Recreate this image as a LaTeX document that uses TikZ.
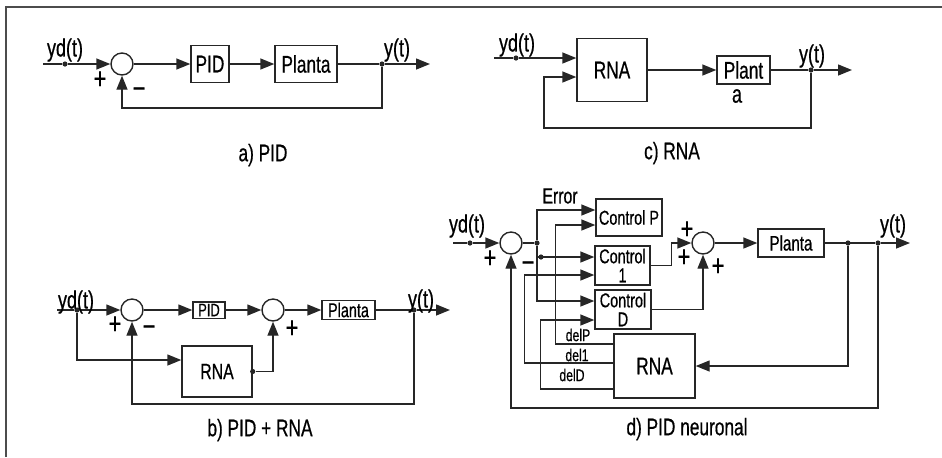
\documentclass[tikz,border=0pt]{standalone}
\usepackage{fontspec}
\setmainfont[FakeStretch=0.72,FakeBold=0.6]{Liberation Sans}
\usetikzlibrary{arrows.meta}
\tikzset{
  linea/.style={line width=0.7pt, draw=black!85},
  bloque/.style={linea, draw, inner sep=1pt, align=center},
  suma/.style={linea, draw, circle, minimum size=11pt, inner sep=0pt},
  punto/.style={circle, fill=black!85, inner sep=0pt, minimum size=2.6pt},
  flecha/.style={linea, -{Triangle[length=7pt,width=5.5pt]}},
  signo/.style={font=\fontsize{15}{15}\selectfont, inner sep=0pt},
  senal/.style={font=\fontsize{12.5}{13}\selectfont, inner sep=0pt},
  titulo/.style={font=\fontsize{12}{12}\selectfont}
}
\begin{document}
\begin{tikzpicture}[x=0.5pt,y=-0.5pt]
  \useasboundingbox (0,0) rectangle (942,457);
  \draw[line width=1pt, black!70] (5.5,457) -- (5.5,7) -- (942,7);

  % a) PID
  \coordinate (a-in) at (43,64);
  \node[punto] (a-p1) at (65,64) {};
  \node[suma] (a-s) at (122,64) {};
  \node[bloque, minimum width=19pt, minimum height=18.5pt, font=\fontsize{12}{12}\selectfont] (a-pid) at (210,64) {PID};
  \node[bloque, minimum width=31pt, minimum height=18.5pt, font=\fontsize{12}{12}\selectfont] (a-planta) at (306,64) {Planta};
  \node[punto] (a-p2) at (382,64) {};
  \coordinate (a-out) at (430,64);
  \draw[linea] (a-in) -- (a-p1);
  \draw[flecha] (a-p1) -- (a-s);
  \draw[flecha] (a-s) -- (a-pid);
  \draw[flecha] (a-pid) -- (a-planta);
  \draw[linea] (a-planta) -- (a-p2);
  \draw[flecha] (a-p2) -- (a-out);
  \draw[flecha] (a-p2) -- ++(0,44) -| (a-s);
  \node[senal] (a-yd) at (65,50) {yd(t)};
  \node[senal] (a-y) at (397,50) {y(t)};
  \node[signo] (a-mas) at (100,80) {+};
  \node[signo] (a-menos) at (139,93) {−};
  \node[titulo] (a-tit) at (263,155) {a) PID};

  % c) RNA
  \coordinate (c-in) at (494,58);
  \node[punto] (c-p1) at (516,58) {};
  \node[bloque, minimum width=35pt, minimum height=31.5pt, font=\fontsize{12}{12}\selectfont] (c-rna) at (612,70) {RNA};
  \node[bloque, minimum width=26.5pt, minimum height=14pt, font=\fontsize{12}{12}\selectfont] (c-plant) at (743.5,70) {Plant};
  \node[punto] (c-p2) at (811,70) {};
  \coordinate (c-out) at (852,70);
  \draw[linea] (c-in) -- (c-p1);
  \draw[flecha] (c-p1) -- (c-p1 -| c-rna.west);
  \draw[flecha] (c-rna) -- (c-plant);
  \draw[linea] (c-plant) -- (c-p2);
  \draw[flecha] (c-p2) -- (c-out);
  \draw[flecha] (c-p2) -- ++(0,58) -- ++(-267,0) |- ([yshift=-3.5pt]c-rna.west);
  \node[senal] (c-a) at (737,96) {a};
  \node[senal] (c-yd) at (517,45) {yd(t)};
  \node[senal] (c-y) at (812,56) {y(t)};
  \node[titulo] (c-tit) at (672,153) {c) RNA};

  % b) PID + RNA
  \coordinate (b-in) at (57,310);
  \node[punto] (b-p1) at (77,310) {};
  \node[suma] (b-s1) at (132,310) {};
  \node[bloque, minimum width=16pt, minimum height=7.5pt, font=\fontsize{9}{9}\selectfont] (b-pid) at (209,310) {PID};
  \node[suma] (b-s2) at (273,310) {};
  \node[bloque, minimum width=26.5pt, minimum height=8.5pt, font=\fontsize{10}{10}\selectfont] (b-planta) at (348.5,310) {Planta};
  \node[punto] (b-p2) at (414,310) {};
  \coordinate (b-out) at (450,310);
  \node[bloque, minimum width=35pt, minimum height=25.5pt, font=\fontsize{11}{11}\selectfont] (b-rna) at (217,371.5) {RNA};
  \draw[linea] (b-in) -- (b-p1);
  \draw[flecha] (b-p1) -- (b-s1);
  \draw[flecha] (b-s1) -- (b-pid);
  \draw[flecha] (b-pid) -- (b-s2);
  \draw[flecha] (b-s2) -- (b-planta);
  \draw[linea] (b-planta) -- (b-p2);
  \draw[flecha] (b-p2) -- (b-out);
  \draw[flecha] (b-p1) |- ([yshift=5.75pt]b-rna.west);
  \node[punto] (b-p3) at (b-rna.east) {};
  \draw[flecha] (b-p3) -| (b-s2);
  \draw[flecha] (b-p2) -- ++(0,94) -| (b-s1);
  \node[senal] (b-yd) at (76,302) {yd(t)};
  \node[senal] (b-y) at (421,301) {y(t)};
  \node[signo] (b-mas1) at (115,325) {+};
  \node[signo] (b-menos) at (149,331) {−};
  \node[signo] (b-mas2) at (292,329) {+};
  \node[titulo] (b-tit) at (260,430) {b) PID + RNA};

  % d) PID neuronal
  \coordinate (d-in) at (453,243);
  \node[punto] (d-p1) at (470,243) {};
  \node[suma] (d-s1) at (511,243) {};
  \node[punto] (d-p2) at (537,243) {};
  \node[punto] (d-p5) at (541,257) {};
  \node[bloque, minimum width=33pt, minimum height=18.5pt, font=\fontsize{10}{9.5}\selectfont] (d-cp) at (629,217.5) {Control P};
  \node[bloque, minimum width=27.5pt, minimum height=19.5pt, font=\fontsize{10}{9.5}\selectfont] (d-c1) at (622.5,265.5) {Control\\1};
  \node[bloque, minimum width=28pt, minimum height=19.5pt, font=\fontsize{10}{9.5}\selectfont] (d-cd) at (623,309.5) {Control\\D};
  \node[suma] (d-s2) at (703,243) {};
  \node[bloque, minimum width=33pt, minimum height=14pt, font=\fontsize{10.5}{10.5}\selectfont] (d-planta) at (791,243) {Planta};
  \node[punto] (d-p3) at (848,243) {};
  \node[punto] (d-p4) at (878,243) {};
  \coordinate (d-out) at (910,243);
  \node[bloque, minimum width=40.5pt, minimum height=32pt, font=\fontsize{12}{12}\selectfont] (d-rna) at (654.5,366) {RNA};
  \draw[linea] (d-in) -- (d-p1);
  \draw[flecha] (d-p1) -- (d-s1);
  \draw[linea] (d-s1) -- (d-p2);
  \draw[flecha] (d-p2) |- ([yshift=3.75pt]d-cp.west);
  \draw[flecha] (d-p2) |- ([yshift=4.25pt]d-cd.west);
  \draw[flecha] (d-p2 |- d-p5) -- (d-p5 -| d-c1.west);
  \draw[flecha] ([yshift=11pt]d-rna.west) -- ++(-58,0) |- ([yshift=-3.75pt]d-cp.west);
  \draw[flecha] ([yshift=1.5pt]d-rna.west) -- ++(-89,0) |- ([yshift=-4.75pt]d-c1.west);
  \draw[flecha] ([yshift=-11.5pt]d-rna.west) -- ++(-73,0) |- ([yshift=-5.25pt]d-cd.west);
  \draw[flecha] (d-c1.east) -- ++(21,0) |- (d-s2);
  \draw[flecha] (d-cd.east) -| (d-s2);
  \draw[flecha] (d-s2) -- (d-planta);
  \draw[linea] (d-planta) -- (d-p4);
  \draw[flecha] (d-p4) -- (d-out);
  \draw[flecha] (d-p3) |- (d-rna.east);
  \draw[flecha] (d-p4) -- ++(0,165) -| (d-s1);
  \node[senal] (d-yd) at (467,226) {yd(t)};
  \node[senal] (d-y) at (893,226) {y(t)};
  \node[font=\fontsize{11}{11}\selectfont, inner sep=0pt] (d-error) at (560,196) {Error};
  \node[font=\fontsize{8.5}{8.5}\selectfont, inner sep=0pt] (d-delp) at (578,335) {delP};
  \node[font=\fontsize{8.5}{8.5}\selectfont, inner sep=0pt] (d-deli) at (577,355) {del1};
  \node[font=\fontsize{8.5}{8.5}\selectfont, inner sep=0pt] (d-deld) at (572,375) {delD};
  \node[signo] (d-mas1) at (490,259) {+};
  \node[signo] (d-menos) at (528,267) {−};
  \node[signo] (d-mas2) at (687,230) {+};
  \node[signo] (d-mas3) at (684,258) {+};
  \node[signo] (d-mas4) at (718,267) {+};
  \node[titulo] (d-tit) at (687,429) {d) PID neuronal};
\end{tikzpicture}
\end{document}
